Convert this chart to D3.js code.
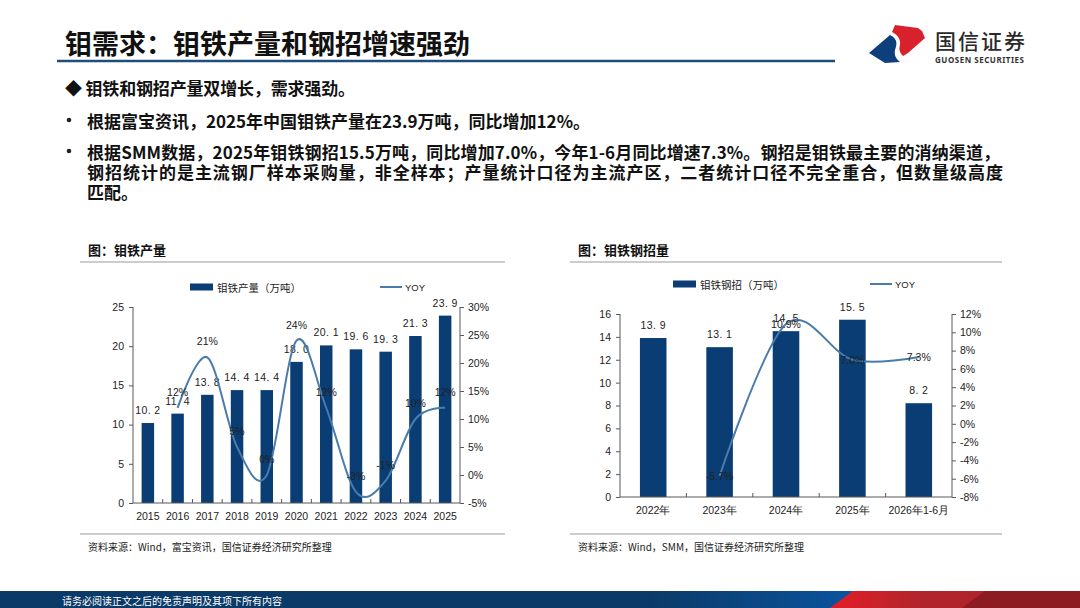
<!DOCTYPE html>
<html>
<head>
<meta charset="utf-8">
<script src="https://cdn.jsdelivr.net/npm/d3@7/dist/d3.min.js"></script>
<style>
  html, body { margin: 0; padding: 0; background: #fff; }
  svg { display: block; }
  .cjk { font-family: "Noto Sans CJK SC", "Noto Sans", sans-serif; }
  .axis text { font-family: "Liberation Sans", Arial, sans-serif; font-size: 10.5px; fill: #222; }
  .axis path, .axis line { stroke: #595959; }
</style>
</head>
<body>
<svg id="page" width="1080" height="608"></svg>
<script>
// ── Data ───────────────────────────────────────────────────────────────────
const prodYears  = ['2015', '2016', '2017', '2018', '2019', '2020', '2021', '2022', '2023', '2024', '2025'];
const prodValues = [10.2, 11.4, 13.8, 14.4, 14.4, 18.0, 20.1, 19.6, 19.3, 21.3, 23.9];
const prodYoy    = [null, 12, 21, 5, 0, 24, 12, -3, -1, 10, 12];
const prodTicksL = [0, 5, 10, 15, 20, 25];
const prodTicksR = [-5, 0, 5, 10, 15, 20, 25, 30];

const buyCats    = ['2022年', '2023年', '2024年', '2025年', '2026年1-6月'];
const buyValues  = [13.9, 13.1, 14.5, 15.5, 8.2];
const buyYoy     = [null, -5.7, 10.9, 7.0, 7.3];
const buyTicksL  = [0, 2, 4, 6, 8, 10, 12, 14, 16];
const buyTicksR  = [-8, -6, -4, -2, 0, 2, 4, 6, 8, 10, 12];

const BAR_COLOR  = '#0a3d73';
const LINE_COLOR = '#4a7bab';

const svg = d3.select('#page');

// ── Header ─────────────────────────────────────────────────────────────────
svg.append('text').attr('class', 'cjk')
  .attr('x', 65).attr('y', 42).attr('dominant-baseline', 'central')
  .attr('font-size', 27).attr('font-weight', 700).attr('fill', '#111')
  .text('钼需求：钼铁产量和钢招增速强劲');
svg.append('line')
  .attr('x1', 57).attr('x2', 835).attr('y1', 61).attr('y2', 61)
  .attr('stroke', '#1f4e79').attr('stroke-width', 2.5);

// logo
const logo = svg.append('g');
logo.append('path')
  .attr('d', 'M869,53 L890,35 C898,39 897,44 895,50 C894,55 896,59 900,62 L885,63 Z')
  .attr('fill', '#0d3f7a');
logo.append('path')
  .attr('d', 'M892,32 L895,25 L918,28 L922,31 L925,38 L908,53 L903,56 C899,52 899,48 900,45 C901,40 898,35 892,32 Z')
  .attr('fill', '#d8212d');
logo.append('text').attr('class', 'cjk')
  .attr('x', 935).attr('y', 40).attr('dominant-baseline', 'central')
  .attr('font-size', 21).attr('font-weight', 500).attr('fill', '#2b2b2b')
  .attr('textLength', 90)
  .text('国信证券');
logo.append('text')
  .attr('x', 935).attr('y', 59.5).attr('dominant-baseline', 'central')
  .attr('font-family', 'Noto Sans, sans-serif')
  .attr('font-size', 8).attr('font-weight', 700).attr('fill', '#333')
  .attr('textLength', 89)
  .text('GUOSEN SECURITIES');

// ── Body text ──────────────────────────────────────────────────────────────
const bodyLines = [
  { x: 65, y: 87,  w: 290, t: '◆ 钼铁和钢招产量双增长，需求强劲。' },
  { x: 87, y: 120, w: 503, t: '根据富宝资讯，2025年中国钼铁产量在23.9万吨，同比增加12%。', bullet: true },
  { x: 87, y: 151, w: 913, t: '根据SMM数据，2025年钼铁钢招15.5万吨，同比增加7.0%，今年1-6月同比增速7.3%。钢招是钼铁最主要的消纳渠道，', bullet: true },
  { x: 87, y: 171, w: 916, t: '钢招统计的是主流钢厂样本采购量，非全样本；产量统计口径为主流产区，二者统计口径不完全重合，但数量级高度' },
  { x: 87, y: 191, w: 0,   t: '匹配。' },
];
bodyLines.forEach(l => {
  if (l.bullet) {
    svg.append('circle').attr('cx', 69).attr('cy', l.y).attr('r', 2.3).attr('fill', '#222');
  }
  const t = svg.append('text').attr('class', 'cjk')
    .attr('x', l.x).attr('y', l.y).attr('dominant-baseline', 'central')
    .attr('font-size', 17).attr('font-weight', 700).attr('fill', '#111')
    .text(l.t);
  if (l.w) t.attr('textLength', l.w).attr('lengthAdjust', 'spacing');
});

// ── Combo chart (bars + smoothed YOY line) ─────────────────────────────────
function drawCombo(opt) {
  const g = svg.append('g');

  // panel title and rules
  g.append('text').attr('class', 'cjk')
    .attr('x', opt.panelX + 8).attr('y', 249).attr('dominant-baseline', 'central')
    .attr('font-size', 13).attr('font-weight', 700).attr('fill', '#111')
    .text(opt.title);
  g.append('line')
    .attr('x1', opt.panelX).attr('x2', opt.panelX + opt.panelW)
    .attr('y1', 262).attr('y2', 262).attr('stroke', '#9a9a9a').attr('stroke-width', 1.2);
  g.append('line')
    .attr('x1', opt.panelX).attr('x2', opt.panelX + opt.panelW)
    .attr('y1', 534).attr('y2', 534).attr('stroke', '#9a9a9a').attr('stroke-width', 1.2);
  g.append('text').attr('class', 'cjk')
    .attr('x', opt.panelX + 8).attr('y', 546).attr('dominant-baseline', 'central')
    .attr('font-size', 10).attr('fill', '#222')
    .text(opt.source);

  // scales
  const x = d3.scaleBand().domain(opt.cats).range([opt.x0, opt.x1])
    .paddingInner(opt.padIn).paddingOuter(opt.padIn / 2);
  const yL = d3.scaleLinear().domain(opt.domL).range([opt.yBottom, opt.yTop]);
  const yR = d3.scaleLinear().domain(opt.domR).range([opt.yBottom, opt.yTop]);

  // bars
  g.selectAll('rect.bar').data(opt.values).join('rect')
    .attr('class', 'bar')
    .attr('x', (d, i) => x(opt.cats[i]))
    .attr('width', x.bandwidth())
    .attr('y', d => yL(d))
    .attr('height', d => yL(0) - yL(d))
    .attr('fill', BAR_COLOR);

  // axes
  g.append('g').attr('class', 'axis')
    .attr('transform', `translate(${opt.x0},0)`)
    .call(d3.axisLeft(yL).tickValues(opt.ticksL).tickSize(4).tickSizeOuter(0).tickPadding(5))
    .call(a => a.select('.domain').attr('d', `M0,${opt.yBottom}V${opt.yTop}`));
  g.append('g').attr('class', 'axis')
    .attr('transform', `translate(${opt.x1},0)`)
    .call(d3.axisRight(yR).tickValues(opt.ticksR).tickFormat(d => d + '%').tickSize(4).tickSizeOuter(0).tickPadding(4))
    .call(a => a.select('.domain').attr('d', `M0,${opt.yBottom}V${opt.yTop}`));
  const xa = g.append('g').attr('class', 'axis')
    .attr('transform', `translate(0,${opt.yBottom})`)
    .call(d3.axisBottom(x).tickSize(0).tickPadding(opt.xPad))
    .call(a => a.select('.domain').attr('d', `M${opt.x0},0H${opt.x1}`));
  xa.selectAll('text').attr('class', 'cjk').attr('font-size', 10.5).attr('fill', '#222');
  // category-boundary ticks, pointing inward
  const gap = x.step() * x.paddingInner() / 2;
  g.selectAll('line.cat-tick').data(opt.cats.slice(1)).join('line')
    .attr('class', 'cat-tick')
    .attr('x1', d => x(d) - gap).attr('x2', d => x(d) - gap)
    .attr('y1', opt.yBottom).attr('y2', opt.yBottom - 4)
    .attr('stroke', '#595959');

  // bar labels
  g.selectAll('text.bar-label').data(opt.values).join('text')
    .attr('class', 'bar-label')
    .attr('x', (d, i) => x(opt.cats[i]) + x.bandwidth() / 2)
    .attr('y', d => yL(d) - 13)
    .attr('text-anchor', 'middle').attr('dominant-baseline', 'central')
    .attr('font-family', 'Liberation Sans, Arial, sans-serif')
    .attr('font-size', 10.5).attr('letter-spacing', 0.4).attr('fill', '#222')
    .text(d => d.toFixed(1).replace('.', '. '));

  // YOY line
  const pts = opt.yoy.map((v, i) => ({ c: opt.cats[i], v })).filter(p => p.v !== null);
  const line = d3.line()
    .x(p => x(p.c) + x.bandwidth() / 2)
    .y(p => yR(p.v))
    .curve(d3.curveCatmullRom.alpha(0));
  g.append('path').datum(pts)
    .attr('d', line)
    .attr('fill', 'none').attr('stroke', LINE_COLOR).attr('stroke-width', 2);

  g.selectAll('text.yoy-label').data(pts).join('text')
    .attr('class', 'yoy-label')
    .attr('x', p => x(p.c) + x.bandwidth() / 2)
    .attr('y', p => yR(p.v) - opt.yoyOffset)
    .attr('text-anchor', 'middle').attr('dominant-baseline', 'central')
    .attr('font-family', 'Liberation Sans, Arial, sans-serif')
    .attr('font-size', 10.5).attr('fill', '#222')
    .text(p => (opt.yoyDigits ? p.v.toFixed(opt.yoyDigits) : p.v) + '%');

  // legend
  const lg = g.append('g');
  lg.append('rect')
    .attr('x', opt.legX).attr('y', opt.legY - 3.5).attr('width', 23).attr('height', 7)
    .attr('fill', BAR_COLOR);
  lg.append('text').attr('class', 'cjk')
    .attr('x', opt.legX + 27).attr('y', opt.legY).attr('dominant-baseline', 'central')
    .attr('font-size', 10.5).attr('fill', '#222').text(opt.barName);
  lg.append('line')
    .attr('x1', opt.legLineX).attr('x2', opt.legLineX + 22)
    .attr('y1', opt.legY).attr('y2', opt.legY)
    .attr('stroke', LINE_COLOR).attr('stroke-width', 2);
  lg.append('text')
    .attr('x', opt.legLineX + 25).attr('y', opt.legY).attr('dominant-baseline', 'central')
    .attr('font-family', 'Liberation Sans, Arial, sans-serif')
    .attr('font-size', 9.5).attr('fill', '#222').text('YOY');
}

drawCombo({
  panelX: 80, panelW: 425,
  title: '图：钼铁产量',
  source: '资料来源：Wind，富宝资讯，国信证券经济研究所整理',
  cats: prodYears, values: prodValues, yoy: prodYoy,
  x0: 133, x1: 460, padIn: 0.58,
  yTop: 307, yBottom: 503,
  domL: [0, 25], domR: [-5, 30],
  ticksL: prodTicksL, ticksR: prodTicksR,
  xPad: 10, yoyOffset: 16, yoyDigits: 0,
  barName: '钼铁产量（万吨）',
  legX: 190, legY: 287, legLineX: 380,
});

drawCombo({
  panelX: 570, panelW: 432,
  title: '图：钼铁钢招量',
  source: '资料来源：Wind，SMM，国信证券经济研究所整理',
  cats: buyCats, values: buyValues, yoy: buyYoy,
  x0: 620, x1: 952, padIn: 0.6,
  yTop: 314, yBottom: 497,
  domL: [0, 16], domR: [-8, 12],
  ticksL: buyTicksL, ticksR: buyTicksR,
  xPad: 10, yoyOffset: 0, yoyDigits: 1,
  barName: '钼铁钢招（万吨）',
  legX: 673, legY: 284, legLineX: 870,
});

// ── Footer band ────────────────────────────────────────────────────────────
const defs = svg.append('defs');
const fg = defs.append('linearGradient').attr('id', 'foot-blue').attr('x1', '0%').attr('x2', '100%');
fg.append('stop').attr('offset', '0%').attr('stop-color', '#0b3a68');
fg.append('stop').attr('offset', '60%').attr('stop-color', '#0b3a68');
fg.append('stop').attr('offset', '80%').attr('stop-color', '#0a55a0');
fg.append('stop').attr('offset', '100%').attr('stop-color', '#0c66b8');
const rg = defs.append('linearGradient').attr('id', 'foot-red').attr('x1', '0%').attr('x2', '100%');
rg.append('stop').attr('offset', '0%').attr('stop-color', '#e41d27');
rg.append('stop').attr('offset', '35%').attr('stop-color', '#b3242c');
rg.append('stop').attr('offset', '100%').attr('stop-color', '#a8232b');

svg.append('rect').attr('x', 0).attr('y', 591).attr('width', 1080).attr('height', 17)
  .attr('fill', 'url(#foot-blue)');
svg.append('path').attr('d', 'M853,591 L1080,591 L1080,608 L830,608 Z').attr('fill', 'url(#foot-red)');
svg.append('path').attr('d', 'M985,591 L1080,591 L1080,608 L962,608 Z').attr('fill', '#8c1c22');
svg.append('text').attr('class', 'cjk')
  .attr('x', 62).attr('y', 600).attr('dominant-baseline', 'central')
  .attr('font-size', 10).attr('fill', '#fff')
  .text('请务必阅读正文之后的免责声明及其项下所有内容');
</script>
</body>
</html>
